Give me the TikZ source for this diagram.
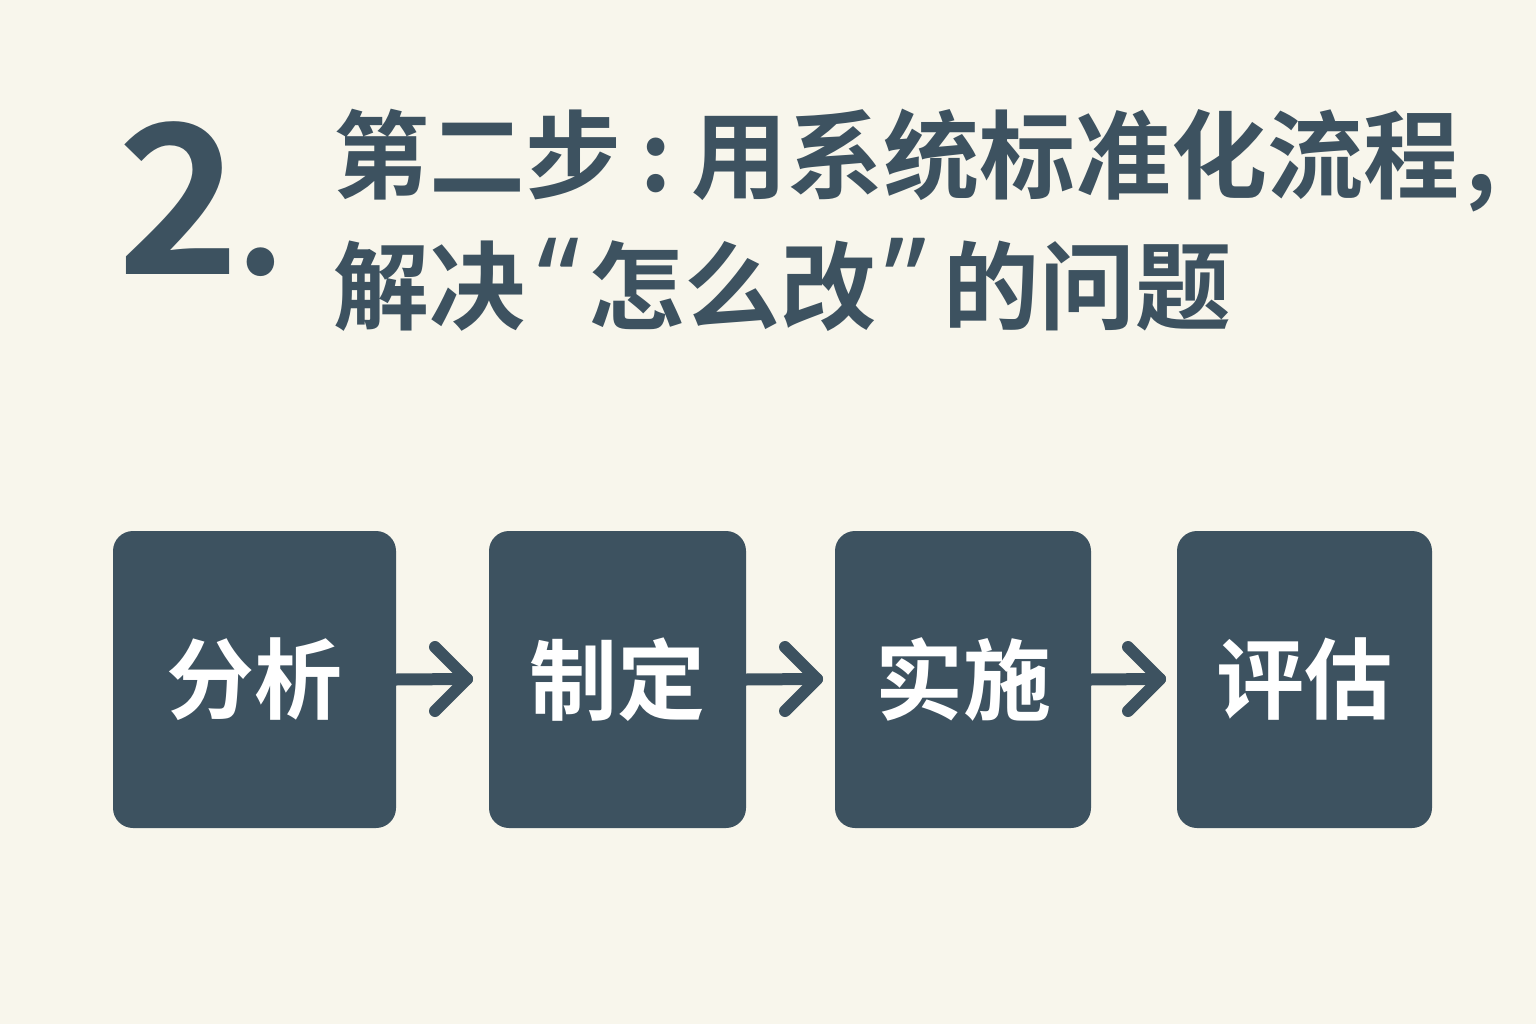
\documentclass[tikz,border=0pt]{standalone}
\usepackage{fontspec}
\newfontfamily\cjk{Noto Sans CJK SC Bold}
\newfontfamily\latin{Noto Sans}
\usetikzlibrary{positioning}
\definecolor{bg}{HTML}{F8F6EC}
\definecolor{slate}{HTML}{3D5260}
\newcommand{\qbox}[2]{\makebox[#1][c]{#2}}
\tikzset{
  stepbox/.style={fill=slate, rounded corners=20pt, minimum width=#1, minimum height=297pt, inner sep=0pt, text=white, font=\cjk\fontsize{88}{88}\selectfont},
  flow/.style={draw=slate, line width=12pt, line cap=round, line join=round},
  title/.style={text=slate, anchor=west, inner sep=0pt, font=\cjk\fontsize{96}{110}\selectfont}
}
\begin{document}
\begin{tikzpicture}[x=1pt,y=-1pt]
\fill[bg] (0,0) rectangle (1536,1024);
\useasboundingbox (0,0) rectangle (1536,1024);
% big number
\node[text=slate, anchor=west, inner sep=0pt, font=\cjk\fontsize{208}{208}\selectfont] (num) at (117,199) {2\hspace{-3pt}\fontsize{150}{150}\selectfont.};
% title
\node[title] (t1) at (333,161) {第二步\qbox{70pt}{:}用系统标准化流程\hspace{6pt},};
\node[title] (t2) at (333,285) {解决\hspace{12pt}{\latin\bfseries\fontsize{118}{118}\selectfont “}\hspace{9pt}怎么改\hspace{8pt}{\latin\bfseries\fontsize{118}{118}\selectfont ”}\hspace{17pt}的问题};
% boxes
\node[stepbox=283pt] (b1) at (254.5,679.5) {分析};
\node[stepbox=257pt] (b2) at (617.5,679.5) {制定};
\node[stepbox=256pt] (b3) at (963,679.5) {实施};
\node[stepbox=255pt] (b4) at (1304.5,679.5) {评估};
% arrows
\coordinate (a1) at (467,679);
\coordinate (a2) at (817,679);
\coordinate (a3) at (1160,679);
\draw[flow] (b1.east) -- (a1);
\draw[flow] ([shift={(-32,-32)}]a1) -- (a1) -- ([shift={(-32,32)}]a1);
\draw[flow] (b2.east) -- (a2);
\draw[flow] ([shift={(-32,-32)}]a2) -- (a2) -- ([shift={(-32,32)}]a2);
\draw[flow] (b3.east) -- (a3);
\draw[flow] ([shift={(-32,-32)}]a3) -- (a3) -- ([shift={(-32,32)}]a3);
\end{tikzpicture}
\end{document}
